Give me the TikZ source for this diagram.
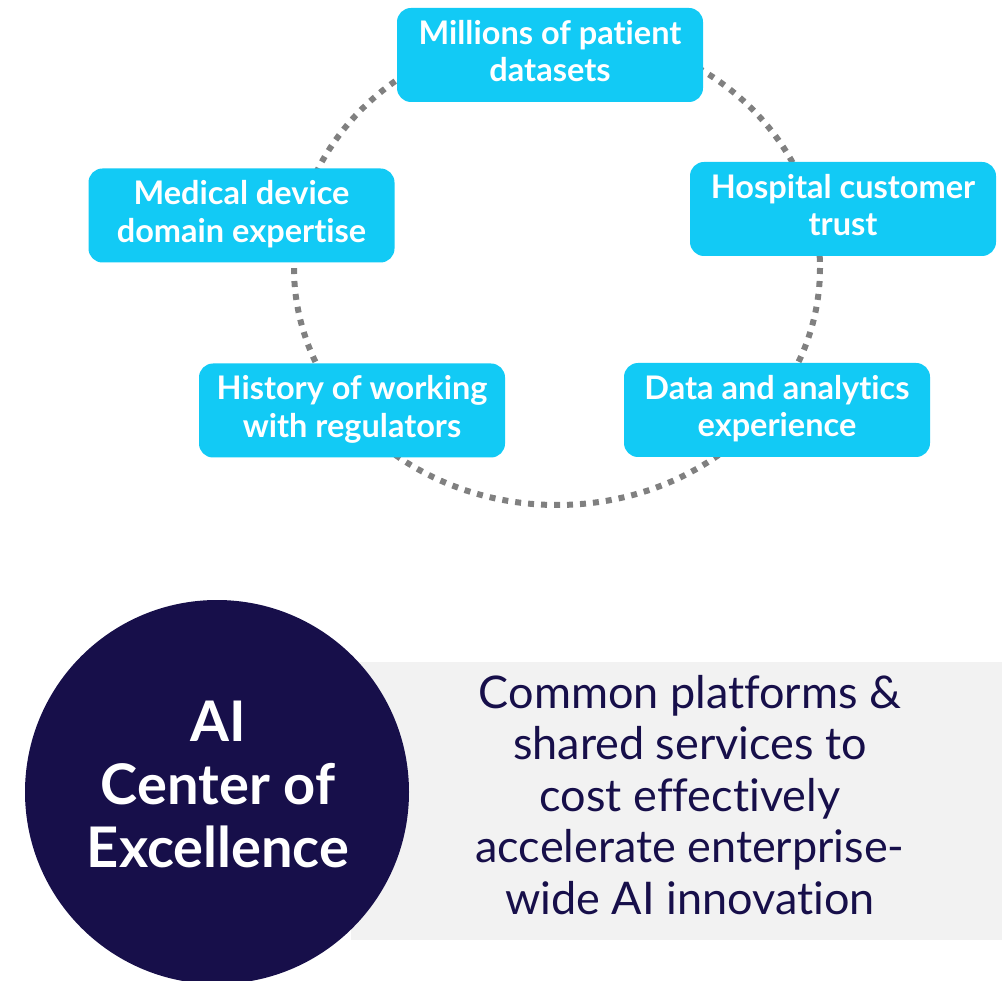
\documentclass[tikz,border=0pt]{standalone}
\usepackage{fontspec}
\setmainfont{Lato}[Ligatures=NoCommon]
\definecolor{boxcyan}{RGB}{18,202,245}
\definecolor{navy}{RGB}{23,15,74}
\definecolor{panelgray}{RGB}{242,242,242}
\definecolor{dotgray}{RGB}{128,128,128}
\tikzset{
  cbox/.style={rectangle, rounded corners=14pt, fill=boxcyan, text=white,
    minimum width=306pt, minimum height=94pt, align=center, inner sep=0pt,
    font=\fontsize{32.5}{37.5}\selectfont\bfseries,
    execute at end node={\rule[-8.5pt]{0pt}{0pt}}},
  dotring/.style={draw=dotgray, line width=6pt, dash pattern=on 6pt off 7pt},
  hub/.style={circle, fill=navy, minimum size=384pt, inner sep=0pt},
  hubtext/.style={text=white, align=center, inner sep=0pt,
    font=\fontsize{56}{63}\selectfont\bfseries},
  panel/.style={fill=panelgray},
  paneltext/.style={text=navy, align=center, inner sep=0pt,
    font=\fontsize{45}{51.5}\selectfont}
}
\begin{document}
\begin{tikzpicture}[x=1pt,y=-1pt]
\useasboundingbox (0,0) rectangle (1002,981);
% dotted ring
\draw[dotring] (557,268) ellipse [x radius=263, y radius=237];
% boxes
\node[cbox] (pat) at (550,55) {Millions of patient\\datasets};
\node[cbox] (med) at (241.5,215.5) {Medical device\\domain expertise};
\node[cbox] (hos) at (843,209) {Hospital customer\\trust};
\node[cbox] (his) at (352,410.5) {History of working\\with regulators};
\node[cbox] (dat) at (777,410) {Data and analytics\\experience};
% bottom panel
\fill[panel] (351,662) rectangle (1002,940);
\node[paneltext] (desc) at (690,795) {Common platforms \&\\shared services to\\cost effectively\\accelerate enterprise-\\wide AI innovation};
\node[hub] (coe) at (217,792) {};
\node[hubtext] (coetext) at (218,784) {AI\\Center of\\Excellence};
\end{tikzpicture}
\end{document}
